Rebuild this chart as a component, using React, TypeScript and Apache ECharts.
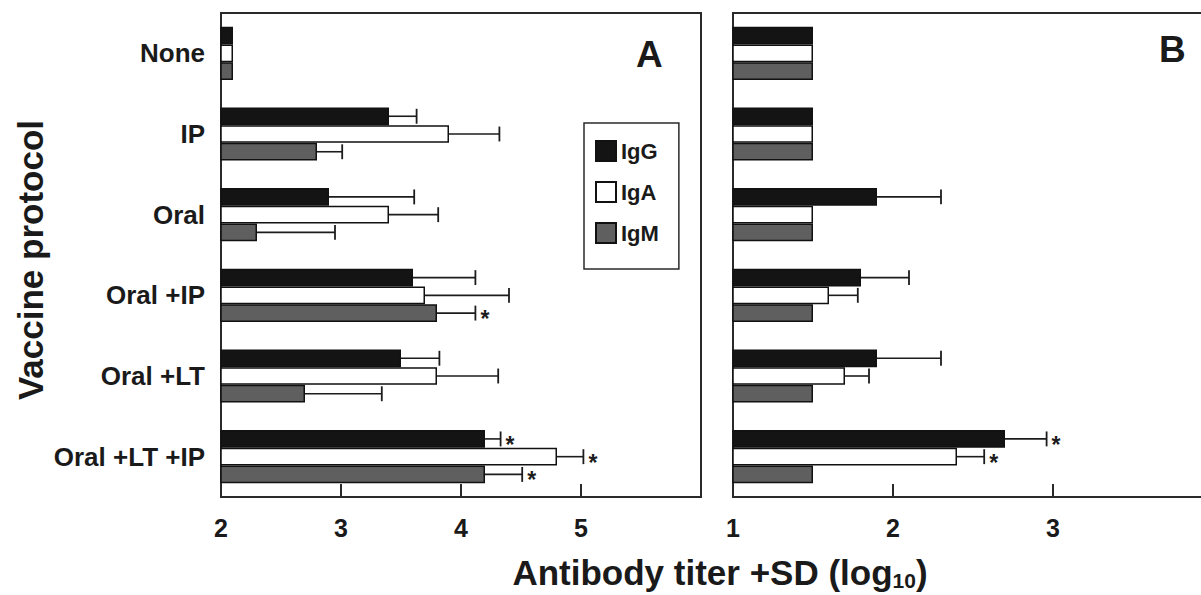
import React, { useEffect, useRef } from "react";
import * as echarts from "echarts";

const categories = ["None", "IP", "Oral", "Oral +IP", "Oral +LT", "Oral +LT +IP"];
const isotypes = ["IgG", "IgA", "IgM"];

// Panel A (log10 titer) means and SD
const aIgG = [2.1, 3.4, 2.9, 3.6, 3.5, 4.2];
const aIgGSd = [0, 0.23, 0.71, 0.52, 0.32, 0.13];
const aIgA = [2.1, 3.9, 3.4, 3.7, 3.8, 4.8];
const aIgASd = [0, 0.42, 0.41, 0.7, 0.51, 0.22];
const aIgM = [2.1, 2.8, 2.3, 3.8, 2.7, 4.2];
const aIgMSd = [0, 0.21, 0.65, 0.32, 0.64, 0.31];
const aIgGStar = [0, 0, 0, 0, 0, 1];
const aIgAStar = [0, 0, 0, 0, 0, 1];
const aIgMStar = [0, 0, 0, 1, 0, 1];

// Panel B
const bIgG = [1.5, 1.5, 1.9, 1.8, 1.9, 2.7];
const bIgGSd = [0, 0, 0.4, 0.3, 0.4, 0.26];
const bIgA = [1.5, 1.5, 1.5, 1.6, 1.7, 2.4];
const bIgASd = [0, 0, 0, 0.18, 0.15, 0.17];
const bIgM = [1.5, 1.5, 1.5, 1.5, 1.5, 1.5];
const bIgMSd = [0, 0, 0, 0, 0, 0];
const bIgGStar = [0, 0, 0, 0, 0, 1];
const bIgAStar = [0, 0, 0, 0, 0, 1];
const bIgMStar = [0, 0, 0, 0, 0, 0];

const aTicks = [2, 3, 4, 5];
const bTicks = [1, 2, 3];

const FONT = "'Liberation Sans', Arial, Helvetica, sans-serif";
const fills = ["#141414", "#ffffff", "#5f5f5f"];
const INK = "#1c1c1c";
const GAP = 0.34;

function errData(means: number[], sds: number[], stars: number[], k: number) {
  return means.map((m, i) => [m, i, sds[i], k, stars[i]]);
}

function renderErr(params: any, api: any) {
  const v = api.value(0);
  const c = api.value(1);
  const sd = api.value(2);
  const k = api.value(3);
  const star = api.value(4);
  const band = api.size([0, 1])[1];
  const bw = (band * (1 - GAP)) / 3;
  const p0 = api.coord([v, c]);
  const p1 = api.coord([v + sd, c]);
  const y = p0[1] + (k - 1) * bw;
  const children: any[] = [];
  if (sd > 0) {
    children.push({
      type: "line",
      shape: { x1: p0[0], y1: y, x2: p1[0], y2: y },
      style: { stroke: INK, lineWidth: 1.6 },
    });
    children.push({
      type: "line",
      shape: { x1: p1[0], y1: y - bw * 0.42, x2: p1[0], y2: y + bw * 0.42 },
      style: { stroke: INK, lineWidth: 1.8 },
    });
  }
  if (star) {
    children.push({
      type: "text",
      style: {
        text: "*",
        x: p1[0] + 5,
        y: y + 6,
        fill: INK,
        font: `bold 23px ${FONT}`,
        textAlign: "left",
        textVerticalAlign: "middle",
      },
    });
  }
  return { type: "group", children };
}

export default function App() {
  const ref = useRef<HTMLDivElement>(null);
  useEffect(() => {
    if (!ref.current) return;
    const chart = echarts.init(ref.current, null, { renderer: "svg" });
    const grids = [
      { left: 221, top: 13, width: 480, height: 484 },
      { left: 733, top: 13, width: 480, height: 484 },
    ].map((g) => ({
      ...g,
      show: true,
      borderColor: "#2a2a2a",
      borderWidth: 2,
      backgroundColor: "#fff",
      containLabel: false,
      outerBoundsMode: "none",
    }));

    const xAxisBase = (gi: number, min: number, max: number, ticks: number[]) => ({
      type: "value",
      gridIndex: gi,
      min,
      max,
      interval: 1,
      splitLine: { show: false },
      axisLine: { show: true, lineStyle: { color: "#2a2a2a", width: 2 } },
      axisTick: { show: true, inside: true, length: 13, lineStyle: { color: "#2a2a2a", width: 2 } },
      axisLabel: {
        show: true,
        margin: 18,
        fontFamily: FONT,
        fontWeight: "bold",
        fontSize: 25,
        color: "#1a1a1a",
        formatter: (v: number) => (ticks.indexOf(v) >= 0 ? String(v) : ""),
      },
    });

    const yAxisBase = (gi: number, showLabels: boolean) => ({
      type: "category",
      gridIndex: gi,
      data: categories,
      inverse: true,
      axisLine: { show: true, lineStyle: { color: "#2a2a2a", width: 2 } },
      axisTick: { show: false },
      axisLabel: {
        show: showLabels,
        margin: 16,
        fontFamily: FONT,
        fontWeight: "bold",
        fontSize: 26,
        color: "#1a1a1a",
      },
    });

    const barSeries = (name: string, data: number[], gi: number, k: number) => ({
      type: "bar",
      name,
      xAxisIndex: gi,
      yAxisIndex: gi,
      data,
      barGap: "0%",
      barCategoryGap: `${GAP * 100}%`,
      itemStyle: { color: fills[k], borderColor: "#111", borderWidth: 1.5 },
      emphasis: { disabled: true },
    });

    const errSeries = (data: any[], gi: number) => ({
      type: "custom",
      xAxisIndex: gi,
      yAxisIndex: gi,
      renderItem: renderErr,
      encode: { x: 0, y: 1 },
      data,
      z: 5,
      silent: true,
    });

    chart.setOption({
      animation: false,
      backgroundColor: "#ffffff",
      textStyle: { fontFamily: FONT },
      grid: grids,
      xAxis: [xAxisBase(0, 2, 6, aTicks), xAxisBase(1, 1, 4, bTicks)],
      yAxis: [yAxisBase(0, true), yAxisBase(1, false)],
      legend: {
        data: isotypes,
        orient: "vertical",
        left: 584,
        top: 123,
        itemWidth: 20,
        itemHeight: 20,
        itemGap: 19,
        padding: [17, 20, 25, 11],
        borderColor: "#2a2a2a",
        borderWidth: 1.5,
        backgroundColor: "#fff",
        selectedMode: false,
        icon: "rect",
        textStyle: { fontFamily: FONT, fontWeight: "bold", fontSize: 22, color: "#1a1a1a" },
      },
      graphic: [
        {
          type: "text",
          left: 636,
          top: 36,
          style: { text: "A", font: `bold 37px ${FONT}`, fill: "#1a1a1a" },
        },
        {
          type: "text",
          left: 1159,
          top: 31,
          style: { text: "B", font: `bold 37px ${FONT}`, fill: "#1a1a1a" },
        },
        {
          type: "text",
          x: 30,
          y: 260,
          rotation: Math.PI / 2,
          style: {
            text: "Vaccine protocol",
            font: `bold 35px ${FONT}`,
            fill: "#1a1a1a",
            textAlign: "center",
            textVerticalAlign: "middle",
          },
        },
        {
          type: "text",
          x: 720,
          y: 572,
          style: {
            text: "{a|Antibody titer +SD (log}{s|10}{a|)}",
            textAlign: "center",
            textVerticalAlign: "middle",
            fill: "#1a1a1a",
            rich: {
              a: { font: `bold 35px ${FONT}`, fill: "#1a1a1a", lineHeight: 40 },
              s: { font: `bold 21px ${FONT}`, fill: "#1a1a1a", lineHeight: 40, padding: [16, 0, 0, 0] },
            },
          },
        },
      ],
      series: [
        barSeries("IgG", aIgG, 0, 0),
        barSeries("IgA", aIgA, 0, 1),
        barSeries("IgM", aIgM, 0, 2),
        errSeries(
          [...errData(aIgG, aIgGSd, aIgGStar, 0), ...errData(aIgA, aIgASd, aIgAStar, 1), ...errData(aIgM, aIgMSd, aIgMStar, 2)],
          0
        ),
        barSeries("IgG", bIgG, 1, 0),
        barSeries("IgA", bIgA, 1, 1),
        barSeries("IgM", bIgM, 1, 2),
        errSeries(
          [...errData(bIgG, bIgGSd, bIgGStar, 0), ...errData(bIgA, bIgASd, bIgAStar, 1), ...errData(bIgM, bIgMSd, bIgMStar, 2)],
          1
        ),
      ],
    });
    return () => chart.dispose();
  }, []);
  return (
    <div
      ref={ref}
      style={{ position: "fixed", left: 0, top: 0, width: 1201, height: 595, background: "#fff" }}
    />
  );
}
